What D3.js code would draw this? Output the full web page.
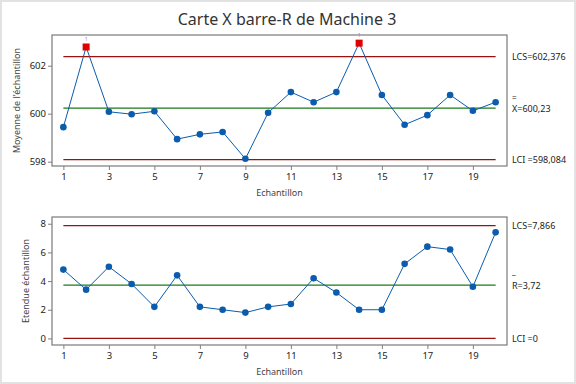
<!DOCTYPE html>
<html lang="fr">
<head>
<meta charset="UTF-8">
<title>Carte X barre-R</title>
<script src="https://d3js.org/d3.v7.min.js"></script>
<style>
  body { margin: 0; background: #fff; }
  text { font-family: "Noto Sans", "Open Sans", sans-serif; }
</style>
</head>
<body>
<svg width="576" height="384"></svg>
<script>
// données
var echantillons = d3.range(1, 21);
var moyennes = [599.44, 602.78, 600.08, 599.98, 600.10, 598.94, 599.14, 599.24, 598.12, 600.04,
                600.90, 600.48, 600.90, 602.94, 600.78, 599.54, 599.94, 600.78, 600.12, 600.48];
var etendues = [4.8, 3.4, 5.0, 3.8, 2.2, 4.4, 2.2, 2.0, 1.8, 2.2,
                2.4, 4.2, 3.2, 2.0, 2.0, 5.2, 6.4, 6.2, 3.6, 7.4];
var limitesX = { lcs: 602.376, centre: 600.23, lci: 598.084 };
var limitesR = { lcs: 7.866, centre: 3.72, lci: 0 };
var ticksX = [1, 3, 5, 7, 9, 11, 13, 15, 17, 19];
var ticksMoy = [598, 600, 602];
var ticksEt = [0, 2, 4, 6, 8];

var svg = d3.select('svg');
var left = 52, right = 507;

// cadre gris autour de l'image
svg.append('rect').attr('x', 1).attr('y', 1).attr('width', 574).attr('height', 382)
  .attr('fill', 'none').attr('stroke', '#e2e2e2').attr('stroke-width', 2);

svg.append('text').attr('x', 287).attr('y', 25).attr('text-anchor', 'middle')
  .attr('font-size', 16).attr('fill', '#333').text('Carte X barre-R de Machine 3');

var x = d3.scaleLinear().domain([0.5, 20.5]).range([left, right]);

function panneau(opts) {
  var y = d3.scaleLinear().domain(opts.domain).range([opts.bottom, opts.top]);
  var g = svg.append('g');

  // axes
  var ax = g.append('g').attr('transform', 'translate(0,' + opts.bottom + ')')
    .call(d3.axisBottom(x).tickValues(ticksX).tickSize(4).tickPadding(3).tickFormat(d3.format('d')));
  var ay = g.append('g').attr('transform', 'translate(' + left + ',0)')
    .call(d3.axisLeft(y).tickValues(opts.ticks).tickSize(4).tickPadding(2).tickFormat(d3.format('d')));
  [ax, ay].forEach(function(a) {
    a.select('.domain').remove();
    a.selectAll('line').attr('stroke', '#808080');
    a.selectAll('text').attr('font-size', 9.5).attr('fill', '#222').attr('font-family', '"Noto Sans", sans-serif');
  });

  g.append('rect').attr('x', left).attr('y', opts.top)
    .attr('width', right - left).attr('height', opts.bottom - opts.top)
    .attr('fill', 'none').attr('stroke', '#7a7a7a').attr('stroke-width', 1.2);

  // lignes de contrôle
  var lim = opts.lim;
  [['lcs', '#9c1010'], ['centre', '#1a781a'], ['lci', '#9c1010']].forEach(function(l) {
    g.append('line').attr('x1', x(1)).attr('x2', x(20))
      .attr('y1', y(lim[l[0]])).attr('y2', y(lim[l[0]]))
      .attr('stroke', l[1]).attr('stroke-width', 1.3);
  });

  // titres d'axes
  g.append('text').attr('x', (left + right) / 2).attr('y', opts.bottom + 30)
    .attr('text-anchor', 'middle').attr('font-size', 9).attr('fill', '#444').text('Echantillon');
  g.append('text')
    .attr('transform', 'translate(' + opts.ylabX + ',' + ((opts.top + opts.bottom) / 2) + ') rotate(-90)')
    .attr('text-anchor', 'middle').attr('font-size', 9).attr('fill', '#444').text(opts.ylab);

  // série
  var line = d3.line().x(function(d, i) { return x(echantillons[i]); }).y(function(d) { return y(d); });
  g.append('path').datum(opts.values).attr('d', line)
    .attr('fill', 'none').attr('stroke', '#0b5cad').attr('stroke-width', 1);

  var hors = function(d) { return d > lim.lcs || d < lim.lci; };
  g.selectAll('circle').data(opts.values.map(function(v, i) { return { v: v, i: i }; })
      .filter(function(d) { return !hors(d.v); }))
    .join('circle')
    .attr('cx', function(d) { return x(echantillons[d.i]); })
    .attr('cy', function(d) { return y(d.v); })
    .attr('r', 3.3).attr('fill', '#0b5cad');

  var rouges = opts.values.map(function(v, i) { return { v: v, i: i }; })
    .filter(function(d) { return hors(d.v); });
  g.selectAll('rect.rouge').data(rouges).join('rect').attr('class', 'rouge')
    .attr('x', function(d) { return x(echantillons[d.i]) - 3.5; })
    .attr('y', function(d) { return y(d.v) - 3.5; })
    .attr('width', 7).attr('height', 7).attr('fill', '#e00000');
  g.selectAll('text.test').data(rouges).join('text').attr('class', 'test')
    .attr('x', function(d) { return x(echantillons[d.i]); })
    .attr('y', function(d) { return y(d.v) - 6; })
    .attr('text-anchor', 'middle').attr('font-size', 6).attr('fill', '#999').text('1');

  // étiquettes à droite
  var lx = 512;
  var lab = g.append('g').attr('font-size', 9).attr('fill', '#222');
  lab.append('text').attr('x', lx).attr('y', y(lim.lcs) + 3.5).text(opts.labLcs);
  lab.append('text').attr('x', lx).attr('y', y(lim.centre) + opts.barreDy).attr('font-size', 8).text(opts.barre);
  lab.append('text').attr('x', lx).attr('y', y(lim.centre) + 3.5).text(opts.labCentre);
  lab.append('text').attr('x', lx).attr('y', y(lim.lci) + 3.5).text(opts.labLci);
}

panneau({
  top: 35, bottom: 166, domain: [597.82, 603.28], ticks: ticksMoy,
  values: moyennes, lim: limitesX, ylab: "Moyenne de l'échantillon", ylabX: 20,
  labLcs: 'LCS=602,376', barre: '=', barreDy: -7, labCentre: 'X=600,23', labLci: 'LCI =598,084'
});
panneau({
  top: 217, bottom: 345, domain: [-0.46, 8.47], ticks: ticksEt,
  values: etendues, lim: limitesR, ylab: 'Etendue échantillon', ylabX: 29,
  labLcs: 'LCS=7,866', barre: '_', barreDy: -11, labCentre: 'R=3,72', labLci: 'LCI =0'
});
</script>
</body>
</html>
